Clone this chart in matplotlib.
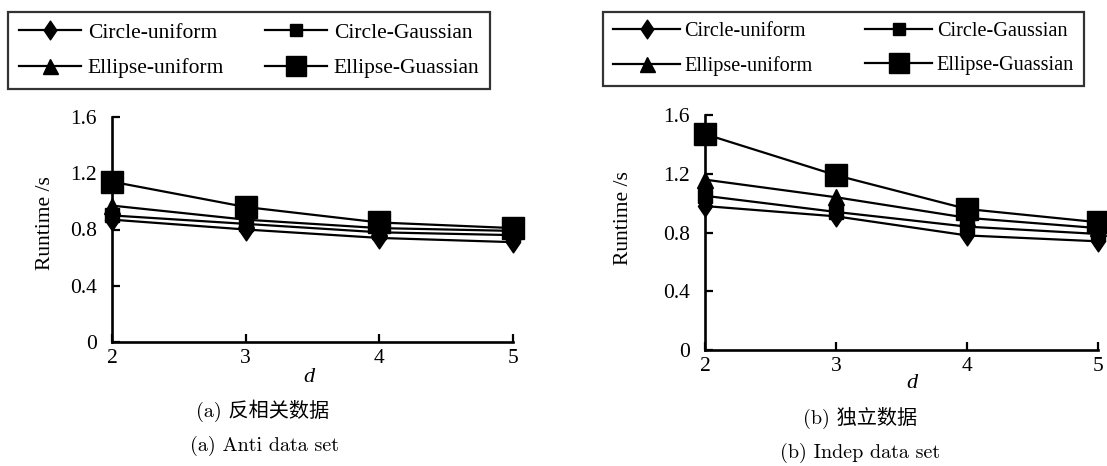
import matplotlib
matplotlib.use("Agg")
import matplotlib.pyplot as plt
from matplotlib.path import Path

# ---- data ----
d_values = [2, 3, 4, 5]
series_names = ["Circle-uniform", "Circle-Gaussian", "Ellipse-uniform", "Ellipse-Guassian"]

anti_circle_uniform = [0.87, 0.80, 0.74, 0.71]
anti_circle_gaussian = [0.90, 0.84, 0.78, 0.76]
anti_ellipse_uniform = [0.97, 0.87, 0.81, 0.79]
anti_ellipse_gaussian = [1.14, 0.96, 0.85, 0.81]

indep_circle_uniform = [0.98, 0.91, 0.78, 0.74]
indep_circle_gaussian = [1.05, 0.94, 0.84, 0.79]
indep_ellipse_uniform = [1.16, 1.04, 0.90, 0.83]
indep_ellipse_gaussian = [1.47, 1.19, 0.96, 0.87]

y_ticks = [0, 0.4, 0.8, 1.2, 1.6]
y_tick_labels = ["0", "0.4", "0.8", "1.2", "1.6"]
x_tick_labels = ["2", "3", "4", "5"]

caption_a_cn = "(a) 反相关数据"
caption_a_en = "(a) Anti data set"
caption_b_cn = "(b) 独立数据"
caption_b_en = "(b) Indep data set"

# ---- styles ----
diamond = Path([(0, 1), (0.68, 0), (0, -1), (-0.68, 0), (0, 1)],
               [Path.MOVETO, Path.LINETO, Path.LINETO, Path.LINETO, Path.CLOSEPOLY])
styles = [
    dict(marker=diamond, markersize=15),
    dict(marker="s", markersize=9.5),
    dict(marker="^", markersize=12),
    dict(marker="s", markersize=16),
]

SERIF = "Liberation Serif"
W, H = 1107, 466
fig = plt.figure(figsize=(W / 100, H / 100), dpi=100)


def px_axes(x0, x1, y_top, y_bot):
    return fig.add_axes([x0 / W, 1 - y_bot / H, (x1 - x0) / W, (y_bot - y_top) / H])


def setup(ax, data, legend_box, legfs, handlelen, colspace, textpad, ylabel_x, ylabel_y, d_xy,
          cap_cn, cap_cn_xy, cap_en, cap_en_xy):
    lines = []
    for vals, st, name in zip(data, styles, series_names):
        ln, = ax.plot(d_values, vals, color="black", lw=1.6, markerfacecolor="black",
                      markeredgecolor="black", label=name, clip_on=False, **st)
        lines.append(ln)
    ax.set_xlim(2, 5)
    ax.set_ylim(0, 1.6)
    for s in ["top", "right"]:
        ax.spines[s].set_visible(False)
    for s in ["left", "bottom"]:
        ax.spines[s].set_linewidth(1.9)
    ax.set_xticks(d_values)
    ax.set_xticklabels(x_tick_labels, fontfamily=SERIF, fontsize=15.5)
    ax.set_yticks(y_ticks)
    ax.set_yticklabels(y_tick_labels, fontfamily=SERIF, fontsize=15.5)
    ax.tick_params(axis="both", direction="in", length=6, width=1.6)
    ax.tick_params(axis="x", pad=5)
    ax.tick_params(axis="y", pad=11)
    fig.text(ylabel_x / W, 1 - ylabel_y / H, "Runtime /s", rotation=90, ha="center",
             va="center", fontfamily=SERIF, fontsize=15.5)
    fig.text(d_xy[0] / W, 1 - d_xy[1] / H, "d", ha="center", va="center",
             fontfamily=SERIF, fontstyle="italic", fontsize=16)
    fig.text(cap_cn_xy[0] / W, 1 - cap_cn_xy[1] / H, cap_cn, ha="center", va="center",
             fontfamily=["cmr10", "Noto Sans CJK SC"], fontsize=14.5)
    fig.text(cap_en_xy[0] / W, 1 - cap_en_xy[1] / H, cap_en, ha="center", va="center",
             fontfamily=["cmr10", "Noto Sans CJK SC"], fontsize=14.5)
    order = [0, 2, 1, 3]
    leg = fig.legend([lines[i] for i in order], [series_names[i] for i in order],
                     loc="upper left", bbox_to_anchor=(legend_box[0] / W, 1 - legend_box[1] / H),
                     ncol=2, frameon=True, fancybox=False, edgecolor="black",
                     prop={"family": SERIF, "size": legfs}, handlelength=handlelen,
                     columnspacing=colspace, handletextpad=textpad, labelspacing=0.72,
                     borderaxespad=0, borderpad=0.5, markerscale=0.9)
    leg.get_frame().set_linewidth(1.6)


ax1 = px_axes(112, 513, 117, 342)
setup(ax1, [anti_circle_uniform, anti_circle_gaussian, anti_ellipse_uniform, anti_ellipse_gaussian],
      (8, 12), 15.5, 2.9, 1.9, 0.3, 45, 223, (309, 378),
      caption_a_cn, (263, 411), caption_a_en, (265, 446))

ax2 = px_axes(705, 1098, 115, 350)
setup(ax2, [indep_circle_uniform, indep_circle_gaussian, indep_ellipse_uniform, indep_ellipse_gaussian],
      (603, 12), 14.6, 3.3, 2.6, 0.22, 624, 218, (912, 383),
      caption_b_cn, (860, 418), caption_b_en, (860, 453))

fig.savefig("out.png", dpi=100, facecolor="white")
